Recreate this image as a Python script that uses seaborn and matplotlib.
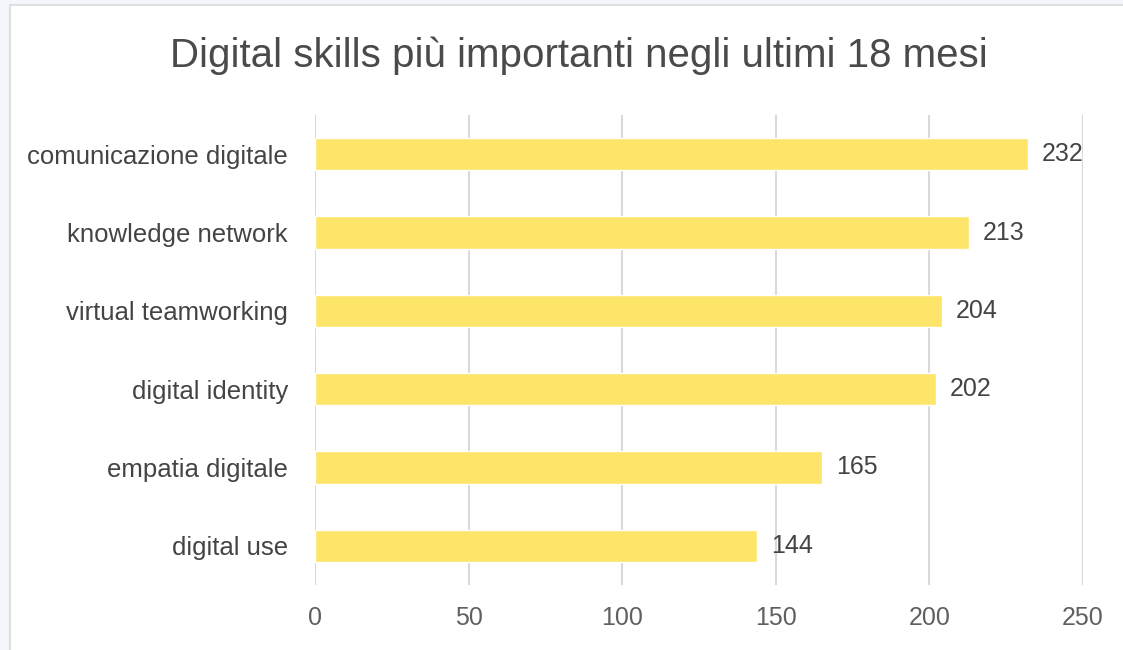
import matplotlib
matplotlib.use("Agg")
import matplotlib.pyplot as plt
from matplotlib.patches import Rectangle
import seaborn as sns
import pandas as pd

categories = [
    "comunicazione digitale",
    "knowledge network",
    "virtual teamworking",
    "digital identity",
    "empatia digitale",
    "digital use",
]
values = [232, 213, 204, 202, 165, 144]
x_ticks = [0, 50, 100, 150, 200, 250]
title = "Digital skills più importanti negli ultimi 18 mesi"

sns.set_theme(style="white")
plt.rcParams["font.family"] = ["Liberation Sans", "DejaVu Sans"]

W, H, DPI = 1123, 650, 100
fig = plt.figure(figsize=(W / DPI, H / DPI), dpi=DPI, facecolor="white")

# page margin strips with a thin frame line
fig.patches.append(Rectangle((0, 0), 9 / W, 1, transform=fig.transFigure,
                             facecolor="#F4F6FB", edgecolor="none", zorder=0))
fig.patches.append(Rectangle((0, 1 - 4 / H), 1, 4 / H, transform=fig.transFigure,
                             facecolor="#F4F6FB", edgecolor="none", zorder=0))
fig.lines.append(plt.Line2D([10 / W, 10 / W], [0, 1 - 5 / H], transform=fig.transFigure,
                            color="#DEDFE3", lw=1.5))
fig.lines.append(plt.Line2D([10 / W, 1], [1 - 5 / H, 1 - 5 / H], transform=fig.transFigure,
                            color="#DEDFE3", lw=1.5))

left, right, top, bottom = 315, 1083, 115, 585
ax = fig.add_axes([left / W, 1 - bottom / H, (right - left) / W, (bottom - top) / H])
ax.set_facecolor("none")

df = pd.DataFrame({"skill": categories, "count": values})
sns.barplot(data=df, y="skill", x="count", orient="h", color="#FDE569",
            width=0.41, saturation=1, ax=ax, zorder=3)

ax.set_xlim(0, 250)
ax.set_xticks(x_ticks)
ax.set_xticklabels([str(t) for t in x_ticks])
ax.xaxis.grid(True, color="#D9D9D9", lw=1.5, zorder=0)
ax.set_axisbelow(True)
for s in ax.spines.values():
    s.set_visible(False)
ax.set_xlabel("")
ax.set_ylabel("")
ax.tick_params(axis="x", length=0, pad=15, labelsize=18, labelcolor="#606060")
ax.tick_params(axis="y", length=0, pad=19.5, labelsize=18.5, labelcolor="#444444")

for cont in ax.containers:
    ax.bar_label(cont, labels=[str(v) for v in values], padding=10,
                 fontsize=18, color="#444444")

fig.text(579 / W, 1 - 56 / H, title, ha="center", va="center",
         fontsize=29, color="#4A4A4A")

fig.savefig("out.png", dpi=DPI, facecolor="white")
